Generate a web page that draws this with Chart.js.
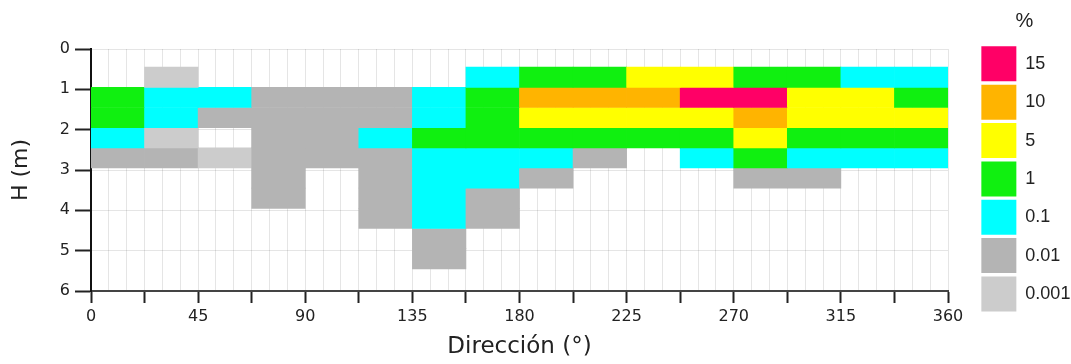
<!DOCTYPE html>
<html>
<head>
<meta charset="utf-8">
<script src="https://cdn.jsdelivr.net/npm/chart.js@4.4.1/dist/chart.umd.min.js"></script>
<style>
  html, body { margin: 0; padding: 0; background: #fff; }
  #wrap { width: 1071px; height: 364px; position: relative; }
</style>
</head>
<body>
<div id="wrap"><canvas id="c"></canvas></div>
<script>
// Direction bins (lower edge, degrees), 22.5° wide
const directionBins = [0, 22.5, 45, 67.5, 90, 112.5, 135, 157.5, 180, 202.5, 225, 247.5, 270, 292.5, 315, 337.5];
const DIR_WIDTH = 22.5;
// Height bands (lower edge of band, m), 0.5 m tall
const heightBands = [0.5, 1.0, 1.5, 2.0, 2.5, 3.0, 3.5, 4.0, 4.5, 5.0];
const BAND_HEIGHT = 0.5;

// Frequency class (%) of each cell, per height band, across the direction bins (null = no data)
const N = null;
const band050 = [N, 0.001, N, N, N, N, N, 0.1, 1, 1, 5, 5, 1, 1, 0.1, 0.1];
const band100 = [1, 0.1, 0.1, 0.01, 0.01, 0.01, 0.1, 1, 10, 10, 10, 15, 15, 5, 5, 1];
const band150 = [1, 0.1, 0.01, 0.01, 0.01, 0.01, 0.1, 1, 5, 5, 5, 5, 10, 5, 5, 5];
const band200 = [0.1, 0.001, N, 0.01, 0.01, 0.1, 1, 1, 1, 1, 1, 1, 5, 1, 1, 1];
const band250 = [0.01, 0.01, 0.001, 0.01, 0.01, 0.01, 0.1, 0.1, 0.1, 0.01, N, 0.1, 1, 0.1, 0.1, 0.1];
const band300 = [N, N, N, 0.01, N, 0.01, 0.1, 0.1, 0.01, N, N, N, 0.01, 0.01, N, N];
const band350 = [N, N, N, 0.01, N, 0.01, 0.1, 0.01, N, N, N, N, N, N, N, N];
const band400 = [N, N, N, N, N, 0.01, 0.1, 0.01, N, N, N, N, N, N, N, N];
const band450 = [N, N, N, N, N, N, 0.01, N, N, N, N, N, N, N, N, N];
const band500 = [N, N, N, N, N, N, 0.01, N, N, N, N, N, N, N, N, N];
const bandValues = [band050, band100, band150, band200, band250, band300, band350, band400, band450, band500];

// Legend classes (%)
const classValues = [15, 10, 5, 1, 0.1, 0.01, 0.001];
const classLabels = ['15', '10', '5', '1', '0.1', '0.01', '0.001'];
const classColors = ['#ff0066', '#ffb400', '#ffff00', '#10f010', '#00ffff', '#b4b4b4', '#cccccc'];

const xTickLabels = [0, 45, 90, 135, 180, 225, 270, 315, 360];
const yTickLabels = [0, 1, 2, 3, 4, 5, 6];

const ROW_SHIFT = -0.05;
function colorOf(v) { const i = classValues.indexOf(v); return i >= 0 ? classColors[i] : 'rgba(0,0,0,0)'; }

const datasets = heightBands.map((h, r) => ({
  label: 'H ' + h,
  xAxisID: 'xc',
  yAxisID: 'y',
  data: bandValues[r].map(v => v === null ? null : [h + ROW_SHIFT, h + BAND_HEIGHT + ROW_SHIFT]),
  backgroundColor: bandValues[r].map(colorOf),
  borderWidth: 0,
  barPercentage: 1,
  categoryPercentage: 1,
  grouped: false
}));

const axisFont = { family: 'DejaVu Sans', size: 16 };
const GRID = 'rgba(0,0,0,0.1)';

new Chart(document.getElementById('c'), {
  type: 'bar',
  data: { labels: directionBins.map(String), datasets },
  options: {
    responsive: true,
    maintainAspectRatio: false,
    animation: false,
    layout: { padding: 0 },
    scales: {
      xc: {
        type: 'category', position: 'top', offset: true,
        grid: { display: false }, border: { display: false }, ticks: { display: false },
        afterFit(s) { s.height = 49; }
      },
      x: {
        type: 'linear', position: 'bottom', min: 0, max: 360, z: 1, offset: false,
        ticks: {
          stepSize: DIR_WIDTH / 3, autoSkip: false, maxRotation: 0, padding: 4,
          callback: v => xTickLabels.includes(v) ? String(v) : '',
          font: axisFont, color: '#222'
        },
        grid: {
          offset: false, color: GRID, lineWidth: 1, tickLength: 12, tickWidth: 2,
          tickColor: c => (c.tick && c.tick.value % DIR_WIDTH === 0) ? '#222' : 'rgba(0,0,0,0)'
        },
        border: { display: true, color: '#444', width: 2 },
        title: { display: true, text: 'Dirección (°)', font: { family: 'DejaVu Sans', size: 23 }, color: '#222', padding: { top: 4, bottom: 3 } },
        afterFit(s) { s.height = 73; }
      },
      y: {
        type: 'linear', position: 'left', reverse: true, min: 0, max: 6, z: 1,
        ticks: {
          stepSize: 1, padding: 5, font: axisFont, color: '#222',
          callback: v => yTickLabels.includes(v) ? String(v) : ''
        },
        grid: { color: GRID, lineWidth: 1, tickLength: 16, tickWidth: 2, tickColor: '#222' },
        border: { display: true, color: '#111', width: 2 },
        title: { display: true, text: 'H (m)', font: { family: 'DejaVu Sans', size: 22 }, color: '#222', padding: { top: 8, bottom: 0 } },
        afterFit(s) { s.width = 91; }
      },
      ys: {
        type: 'linear', position: 'right',
        grid: { display: false }, border: { display: false }, ticks: { display: false },
        afterFit(s) { s.width = 30; }
      }
    },
    plugins: {
      tooltip: { enabled: false },
      legend: {
        position: 'right', align: 'start', maxWidth: 93,
        title: { display: true, text: '%', font: { family: 'Liberation Sans', size: 20 }, color: '#222', padding: { top: 11, bottom: 8 } },
        labels: {
          boxWidth: 35, boxHeight: 35, padding: 3.35,
          font: { family: 'Liberation Sans', size: 18 }, color: '#222',
          generateLabels: () => classValues.map((v, i) => ({
            text: classLabels[i], fillStyle: classColors[i], strokeStyle: classColors[i],
            lineWidth: 0, hidden: false, index: i
          }))
        }
      }
    }
  }
});
</script>
</body>
</html>
